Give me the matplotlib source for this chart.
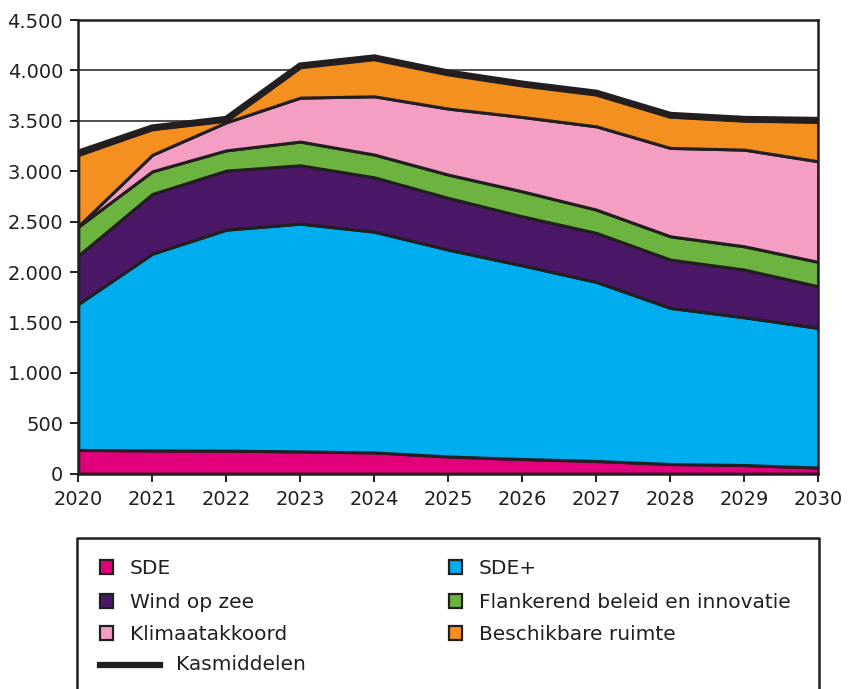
import matplotlib
matplotlib.use('Agg')
import matplotlib.pyplot as plt
from matplotlib.patches import Rectangle
from matplotlib.lines import Line2D
from matplotlib.ticker import FuncFormatter

####################################################
##                    Data
####################################################

years = [2020, 2021, 2022, 2023, 2024, 2025, 2026, 2027, 2028, 2029, 2030]

sde = [235, 230, 228, 220, 210, 170, 145, 125, 95, 85, 60]
sde_plus = [1448, 1952, 2192, 2260, 2190, 2052, 1921, 1777, 1549, 1466, 1385]
wind_op_zee = [480, 592, 586, 579, 539, 513, 486, 486, 479, 473, 413]
flankerend = [287, 225, 201, 235, 226, 231, 248, 231, 231, 231, 242]
klimaatakkoord = [5, 164, 278, 436, 578, 655, 738, 826, 877, 959, 998]
beschikbaar = [705, 257, 20, 330, 372, 349, 317, 325, 314, 291, 392]
kasmiddelen = [3180, 3430, 3515, 4045, 4125, 3975, 3865, 3775, 3555, 3515, 3505]

labels = ['SDE', 'SDE+', 'Wind op zee', 'Flankerend beleid en innovatie',
          'Klimaatakkoord', 'Beschikbare ruimte']
colors = ['#E2007A', '#00AEEF', '#4B1868', '#6DB33F', '#F49EC4', '#F39020']
line_color = '#231F20'

####################################################
##                    Plot
####################################################

W, H = 853, 689
FS_TICK = 14
FS_LEG = 14.5
plt.rcParams['font.family'] = ['DejaVu Sans']

fig = plt.figure(figsize=(W / 100, H / 100), dpi=100)

def fx(px):
    return px / W

def fy(py):
    return 1 - py / H

ax = fig.add_axes([fx(78.3), fy(473.6), fx(818.3) - fx(78.3), fy(20) - fy(473.6)])

ax.stackplot(years, sde, sde_plus, wind_op_zee, flankerend, klimaatakkoord, beschikbaar,
             colors=colors, edgecolor=line_color, linewidth=2.2, zorder=2)
ax.plot(years, kasmiddelen, color=line_color, linewidth=5, solid_joinstyle='miter', zorder=3)

ax.set_xlim(2020, 2030)
ax.set_ylim(0, 4500)
ax.set_xticks(years)
ax.set_yticks(range(0, 4501, 500))
ax.yaxis.set_major_formatter(FuncFormatter(lambda v, p: '{:,}'.format(int(v)).replace(',', '.')))
ax.grid(axis='y', color=line_color, linewidth=1.1, zorder=0)
ax.set_axisbelow(True)

for side in ['left', 'bottom', 'right', 'top']:
    ax.spines[side].set_color(line_color)
    ax.spines[side].set_linewidth(1.8)
    ax.spines[side].set_zorder(4)

ax.tick_params(axis='both', direction='out', length=6, width=1.4, color=line_color,
               labelsize=FS_TICK, labelcolor=line_color)
ax.tick_params(axis='x', pad=6)
ax.tick_params(axis='y', pad=5)

####################################################
##                   Legend
####################################################

# frame (open at the bottom)
frame_x = [fx(77.3), fx(77.3), fx(819), fx(819)]
frame_y = [fy(H + 5), fy(538.3), fy(538.3), fy(H + 5)]
fig.add_artist(Line2D(frame_x, frame_y, color=line_color, linewidth=1.8))

col1 = [0, 2, 4]
col2 = [1, 3, 5]
row_y = [567, 601, 633]
sq = 13.5

for col, x_sq, x_txt in [(col1, 100, 130), (col2, 449, 479)]:
    for i, idx in enumerate(col):
        y = row_y[i]
        fig.add_artist(Rectangle((fx(x_sq), fy(y + sq / 2)), sq / W, sq / H,
                                 facecolor=colors[idx], edgecolor=line_color, linewidth=1.6))
        fig.text(fx(x_txt), fy(y + 1), labels[idx], fontsize=FS_LEG, color=line_color,
                 ha='left', va='center')

fig.add_artist(Line2D([fx(100.5), fx(160)], [fy(665), fy(665)], color=line_color, linewidth=4.5))
fig.text(fx(176), fy(665), 'Kasmiddelen', fontsize=FS_LEG, color=line_color, ha='left', va='center')

plt.savefig('out.png', dpi=100)
plt.close()
